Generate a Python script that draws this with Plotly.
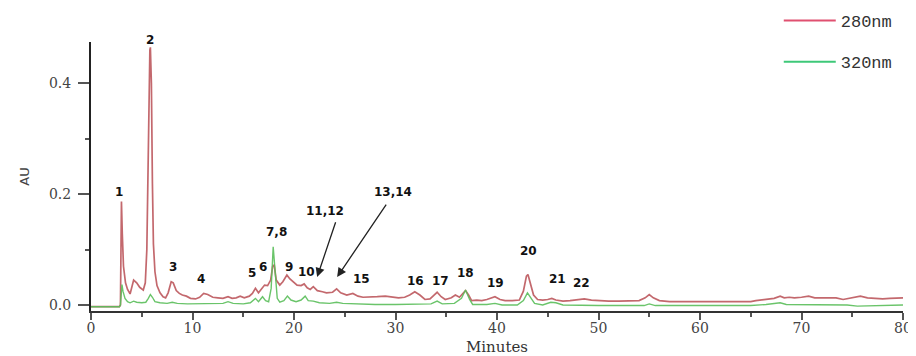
import plotly.graph_objects as go

# ---------------- data ----------------
t_280 = [0, 2.8, 2.9, 2.95, 3.0, 3.08, 3.2, 3.4, 3.6, 3.85, 4.0, 4.2, 4.5, 4.8, 5.15, 5.35, 5.5, 5.65,
         5.8, 5.85, 5.95, 6.05, 6.15, 6.3, 6.5, 6.8, 7.1, 7.35, 7.6, 7.9, 8.1, 8.4, 8.7, 9.0, 9.4, 9.8,
         10.3, 10.7, 11.1, 11.5, 12.0, 12.5, 13.0, 13.5, 13.9, 14.3, 14.7, 15.1, 15.6, 15.9, 16.2, 16.5,
         16.8, 17.1, 17.4, 17.7, 17.9, 18.05, 18.25, 18.6, 18.9, 19.3, 19.6, 19.9, 20.3, 20.7, 21.0, 21.3,
         21.6, 21.9, 22.3, 22.8, 23.2, 23.8, 24.2, 24.6, 25.2, 25.8, 26.3, 26.8, 27.5, 28.2, 29.0, 29.7,
         30.3, 30.9, 31.4, 31.9, 32.4, 32.9, 33.4, 33.8, 34.1, 34.5, 34.9, 35.5, 35.9, 36.3, 36.6, 36.9,
         37.2, 37.5, 38.0, 38.5, 39.0, 39.5, 39.8, 40.3, 40.8, 41.5, 42.2, 42.6, 42.9, 43.05, 43.3, 43.6,
         44.0, 44.5, 45.0, 45.4, 45.8, 46.5, 47.2, 48.0, 48.6, 49.3, 50.0, 51.0, 52.0, 53.0, 54.0, 54.6,
         55.0, 55.4, 56.0, 57.0, 60.0, 63.0, 65.0, 65.5, 66.5, 67.3, 67.9, 68.3, 68.8, 69.3, 70.0, 70.7,
         71.3, 72.0, 72.8, 73.4, 74.1, 74.8, 75.8, 76.5, 77.3, 78.0, 78.7, 79.3, 80.0]
au_280 = [-0.003, -0.003, 0.0, 0.06, 0.187, 0.13, 0.07, 0.04, 0.028, 0.02, 0.03, 0.045, 0.04, 0.032, 0.027, 0.04, 0.1, 0.3,
          0.46, 0.465, 0.4, 0.22, 0.11, 0.06, 0.035, 0.022, 0.015, 0.013, 0.022, 0.042, 0.04, 0.026, 0.021, 0.018, 0.016, 0.012,
          0.011, 0.014, 0.021, 0.019, 0.014, 0.013, 0.012, 0.015, 0.012, 0.013, 0.016, 0.013, 0.016, 0.021, 0.03, 0.022,
          0.028, 0.036, 0.035, 0.045, 0.07, 0.072, 0.045, 0.036, 0.042, 0.054, 0.047, 0.042, 0.036, 0.035, 0.038, 0.031,
          0.028, 0.033, 0.026, 0.024, 0.022, 0.023, 0.029, 0.022, 0.018, 0.021, 0.016, 0.014, 0.014, 0.015, 0.016, 0.015,
          0.013, 0.014, 0.018, 0.024, 0.018, 0.01, 0.011, 0.018, 0.023, 0.015, 0.01, 0.013, 0.018, 0.014, 0.02, 0.026,
          0.018, 0.008, 0.009, 0.008, 0.01, 0.014, 0.015, 0.01, 0.008, 0.008, 0.009, 0.025, 0.052, 0.055, 0.04, 0.018,
          0.01, 0.009, 0.01, 0.012, 0.009, 0.007, 0.008, 0.01, 0.011, 0.009, 0.008, 0.007, 0.007, 0.008, 0.008, 0.013,
          0.019, 0.013, 0.008, 0.006, 0.006, 0.006, 0.006, 0.008, 0.01, 0.012, 0.016, 0.013, 0.014, 0.013, 0.014, 0.016,
          0.013, 0.013, 0.012, 0.013, 0.01, 0.012, 0.016, 0.013, 0.012, 0.011, 0.012, 0.013, 0.013]

t_320 = [0, 2.8, 2.9, 2.97, 3.05, 3.15, 3.35, 3.6, 3.85, 4.2, 4.5, 5.0, 5.4, 5.65, 5.85, 6.05, 6.3, 6.8,
         7.5, 8.0, 8.5, 9.5, 10.5, 11.2, 12.0, 13.0, 13.5, 14.0, 15.0, 15.7, 16.2, 16.5, 16.9, 17.2, 17.5,
         17.75, 17.95, 18.15, 18.35, 18.6, 19.0, 19.35, 19.7, 20.2, 20.7, 21.1, 21.4, 21.9, 22.5, 23.5, 24.2,
         24.8, 26.0, 28.0, 30.0, 32.0, 33.5, 34.1, 34.6, 35.8, 36.5, 36.9, 37.3, 37.6, 39.0, 39.8, 40.5, 42.0,
         42.6, 43.0, 43.3, 43.7, 44.5, 45.3, 45.8, 46.5, 50.0, 54.5, 55.0, 55.6, 60.0, 65.0, 66.5, 67.9, 68.5,
         72.0, 74.5, 75.5, 77.0, 78.5, 80.0]
au_320 = [-0.003, -0.003, 0.0, 0.025, 0.037, 0.025, 0.012, 0.006, 0.004, 0.007, 0.005, 0.004, 0.005, 0.012, 0.019, 0.014, 0.006, 0.004,
          0.003, 0.005, 0.003, 0.002, 0.002, 0.003, 0.002, 0.003, 0.006, 0.003, 0.002, 0.004, 0.012, 0.006, 0.015, 0.008, 0.006,
          0.03, 0.105, 0.05, 0.012, 0.005, 0.008, 0.016, 0.009, 0.006, 0.009, 0.016, 0.008, 0.007, 0.004, 0.003, 0.005,
          0.003, 0.002, 0.001, 0.001, 0.001, 0.002, 0.007, 0.002, 0.003, 0.012, 0.027, 0.01, 0.001, 0.001, 0.003, 0.0, 0.0,
          0.008, 0.022, 0.014, 0.003, 0.0, 0.005, 0.004, 0.0, -0.001, -0.001, 0.002, -0.001, -0.001, -0.001, 0.001, 0.004, 0.001,
          0.001, 0.0, -0.002, -0.001, -0.001, 0.0]

peak_labels = ["1", "2", "3", "4", "5", "6", "7,8", "9", "10", "11,12", "13,14", "15",
               "16", "17", "18", "19", "20", "21", "22"]
label_t = [2.79, 5.82, 8.05, 10.81, 15.84, 16.98, 18.30, 19.55, 21.26, 23.07, 29.80, 26.61,
           31.94, 34.47, 36.87, 39.82, 43.10, 45.96, 48.37]
label_au = [0.2045, 0.478, 0.0691, 0.0469, 0.0572, 0.0691, 0.1312, 0.0691, 0.0601, 0.1702, 0.2045, 0.0464,
            0.0433, 0.0433, 0.0583, 0.0392, 0.0980, 0.0469, 0.0392]

# arrows: (tip time, tip AU, tail time, tail AU)
arrow_tip_t = [22.28, 24.25]
arrow_tip_au = [0.0505, 0.0505]
arrow_tail_t = [24.15, 29.18]
arrow_tail_au = [0.152, 0.184]

series_names = ["280nm", "320nm"]
x_ticks = [0, 10, 20, 30, 40, 50, 60, 70, 80]
y_ticks = [0.0, 0.2, 0.4]
y_ticktext = ["0.0", "0.2", "0.4"]

# ---------------- figure ----------------
y_range = [-0.0108, 0.4747]
trace_colors = ["rgba(184,78,84,0.85)", "rgba(90,190,90,0.9)"]
legend_colors = ["#e05070", "#3ec878"]

fig = go.Figure()
fig.add_trace(go.Scatter(x=t_280, y=au_280, mode="lines", line=dict(color=trace_colors[0], width=1.7),
                         showlegend=False, hoverinfo="skip"))
fig.add_trace(go.Scatter(x=t_320, y=au_320, mode="lines", line=dict(color=trace_colors[1], width=1.4),
                         showlegend=False, hoverinfo="skip"))
for i, name in enumerate(series_names):
    fig.add_trace(go.Scatter(x=[None], y=[None], mode="lines", name=name, legendgroup=name,
                             line=dict(color=legend_colors[i], width=2)))

plot_h_px = 269.0
for lab, tx, ty in zip(peak_labels, label_t, label_au):
    # labels above the top of the axis range are anchored at the top and shifted up
    shift = 0
    if ty > y_range[1]:
        shift = (ty - y_range[1]) / (y_range[1] - y_range[0]) * plot_h_px
        ty = y_range[1]
    fig.add_annotation(x=tx, y=ty, yshift=shift, text=lab, showarrow=False,
                       font=dict(family="DejaVu Sans", size=12, color="#111", weight="bold"),
                       xanchor="center", yanchor="middle")

for tx, ty, ax, ay in zip(arrow_tip_t, arrow_tip_au, arrow_tail_t, arrow_tail_au):
    fig.add_annotation(x=tx, y=ty, ax=ax, ay=ay, axref="x", ayref="y", text="",
                       showarrow=True, arrowhead=2, arrowsize=1.4, arrowwidth=1.3,
                       arrowcolor="#222")

tick_font = dict(family="DejaVu Serif", size=14, color="#444")

# the page adds an 8px body margin, so the figure is 8px smaller and margins are shifted
fig.update_layout(
    width=908, height=348,
    margin=dict(l=83, r=13, t=34, b=45, autoexpand=False),
    paper_bgcolor="white", plot_bgcolor="white",
    legend=dict(x=0.847, y=1.145, xanchor="left", yanchor="top", itemwidth=52,
                font=dict(family="Liberation Mono", size=17, color="#333"),
                tracegroupgap=16, bgcolor="rgba(0,0,0,0)"),
    xaxis=dict(range=[0, 80], tickvals=x_ticks, showline=True, linecolor="#333", linewidth=2,
               ticks="outside", ticklen=7, tickwidth=1.5, tickcolor="#555", automargin=True,
               ticklabelstandoff=-4,
               minor=dict(dtick=5, ticks="outside", ticklen=4, tickcolor="#555"),
               showgrid=False, zeroline=False, tickfont=tick_font,
               title=dict(text="Minutes", font=dict(family="DejaVu Serif", size=15, color="#333"), standoff=7)),
    yaxis=dict(range=y_range, tickvals=y_ticks, ticktext=y_ticktext, showline=True,
               linecolor="#222", linewidth=2, ticks="outside", ticklen=11, tickwidth=1.5, tickcolor="#555",
               minor=dict(dtick=0.1, ticks="outside", ticklen=4, tickcolor="#555"), automargin=True,
               ticklabelstandoff=4,
               showgrid=False, zeroline=False, tickfont=tick_font,
               title=dict(text="AU", font=dict(family="DejaVu Sans", size=13, color="#444"), standoff=16)),
)

fig.write_html("out.html")
